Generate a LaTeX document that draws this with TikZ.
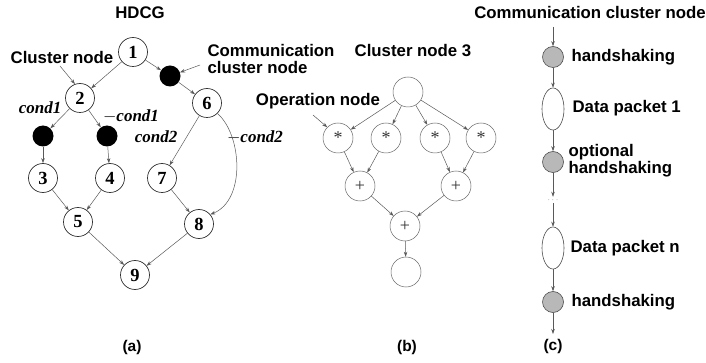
\documentclass[tikz,border=0pt]{standalone}
\usepackage{fontspec}
\setmainfont{Liberation Serif}
\setsansfont{Liberation Sans}
\usetikzlibrary{arrows.meta,shapes.geometric}
\begin{document}
\begin{tikzpicture}[x=1pt,y=-1pt,
  edge/.style={draw=black!65,line width=0.5pt,-{Stealth[length=5pt,width=3.5pt]}},
  cnode/.style={circle,draw=black!80,line width=0.7pt,minimum size=29pt,inner sep=0pt,
    font=\fontsize{18.5}{18}\selectfont\bfseries},
  comm/.style={circle,fill=black,minimum size=21pt,inner sep=0pt},
  opnode/.style={circle,draw=black!60,line width=0.5pt,minimum size=30pt,inner sep=0pt,
    font=\fontsize{18}{18}\selectfont,text=black!80},
  hs/.style={circle,draw=black!70,fill=black!28,line width=0.6pt,minimum size=21pt,inner sep=0pt},
  pkt/.style={ellipse,draw=black!70,line width=0.6pt,minimum width=22pt,minimum height=42pt,inner sep=0pt},
  lbl/.style={font=\sffamily\bfseries\fontsize{16.8}{17}\selectfont},
  subcap/.style={font=\sffamily\bfseries\fontsize{15.5}{15}\selectfont},
  cond/.style={font=\bfseries\itshape\fontsize{17}{17}\selectfont}]
\useasboundingbox (0,0) rectangle (706,363);

% ---------- (a) HDCG ----------
\node[lbl] (tA) at (140,13) {HDCG};
\node[cnode] (n1) at (133,52) {1};
\node[comm]  (c1) at (170,76) {};
\node[cnode] (n2) at (80,98) {2};
\node[cnode] (n6) at (207,103) {6};
\node[comm]  (cl) at (43,136) {};
\node[comm]  (cr) at (107,136) {};
\node[cnode] (n3) at (43,178) {3};
\node[cnode] (n4) at (110,178) {4};
\node[cnode] (n7) at (162,178) {7};
\node[cnode] (n5) at (78,222) {5};
\node[cnode] (n8) at (199,224) {8};
\node[cnode] (n9) at (135,275) {9};

\node[lbl] (lcl) at (62,57) {Cluster node};
\node[lbl,align=left,anchor=west] (lcc) at (204,58.5) {Communication\\cluster node};
\coordinate (pcl) at (60,66);
\coordinate (pcc) at (200,65);
\draw[edge] (pcl) -- (n2.110);
\draw[edge] (pcc) -- (c1.20);

\node[cond] (k1) at (40,108) {cond1};
\node[cond] (k2) at (131,116) {$-$cond1};
\node[cond] (k3) at (156,137) {cond2};
\node[cond] (k4) at (255,137) {$-$cond2};

\draw[edge] (n1) -- (n2);
\draw[edge] (n1) -- (c1);
\draw[edge] (c1) -- (n6);
\draw[edge] (n2) -- (cl);
\draw[edge] (n2) -- (cr);
\draw[edge] (cl) -- (n3);
\draw[edge] (cr) -- (n4);
\draw[edge] (n6) -- (n7);
\draw[edge] (n6.-45) .. controls (242,135) and (246,200) .. (n8.40);
\draw[edge] (n3) -- (n5);
\draw[edge] (n4) -- (n5);
\draw[edge] (n7) -- (n8);
\draw[edge] (n5) -- (n9);
\draw[edge] (n8) -- (n9);
\node[subcap] (capA) at (132,347) {(a)};

% ---------- (b) Cluster node 3 ----------
\node[lbl] (tB) at (413,51) {Cluster node 3};
\node[opnode] (top) at (408,92) {};
\node[opnode] (m1) at (338,138) {\raisebox{-4pt}{*}};
\node[opnode] (m2) at (386,138) {\raisebox{-4pt}{*}};
\node[opnode] (m3) at (435,138) {\raisebox{-4pt}{*}};
\node[opnode] (m4) at (481,138) {\raisebox{-4pt}{*}};
\node[opnode] (a1) at (360,186) {+};
\node[opnode] (a2) at (456,186) {+};
\node[opnode] (a3) at (405,226) {+};
\node[opnode] (bot) at (406,272) {};
\node[lbl] (lop) at (318,101) {Operation node};
\coordinate (pop) at (313,115);
\draw[edge] (pop) -- (m1.135);
\foreach \m in {m1,m2,m3,m4} \draw[edge] (top) -- (\m);
\draw[edge] (m1) -- (a1);
\draw[edge] (m2) -- (a1);
\draw[edge] (m3) -- (a2);
\draw[edge] (m4) -- (a2);
\draw[edge] (a1) -- (a3);
\draw[edge] (a2) -- (a3);
\draw[edge] (a3) -- (bot);
\node[subcap] (capB) at (407,347) {(b)};

% ---------- (c) Communication cluster node ----------
\node[lbl] (tC) at (590,12) {Communication cluster node};
\coordinate (cin) at (553,27);
\node[hs]  (h1) at (553,57) {};
\node[pkt] (p1) at (553,109) {};
\node[hs]  (h2) at (553,162) {};
\node[font=\fontsize{9}{9}\selectfont,text=black!50,inner sep=1pt] (dd) at (553,200) {$\cdots$};
\node[pkt] (pn) at (553,248) {};
\node[hs]  (h3) at (553,302) {};
\coordinate (cout) at (553,334);
\node[lbl,anchor=west] (l1) at (568,57) {handshaking};
\node[lbl,anchor=west] (l2) at (569,108) {Data packet 1};
\node[lbl,anchor=west,align=left] (l3) at (565,161) {optional\\handshaking};
\node[lbl,anchor=west] (l4) at (567,248) {Data packet n};
\node[lbl,anchor=west] (l5) at (568,302) {handshaking};
\draw[edge] (cin) -- (h1);
\draw[edge] (h1) -- (p1);
\draw[edge] (p1) -- (h2);
\draw[edge] (h2) -- (dd);
\draw[edge] (dd) -- (pn);
\draw[edge] (pn) -- (h3);
\draw[edge] (h3) -- (cout);
\node[subcap] (capC) at (553,346) {(c)};
\end{tikzpicture}
\end{document}
